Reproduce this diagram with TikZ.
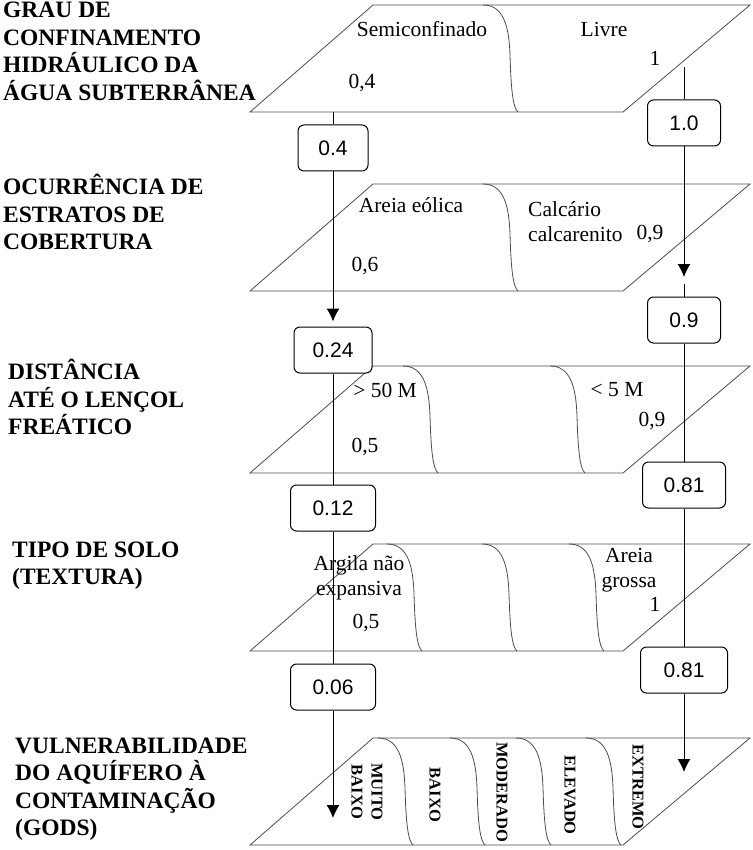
\documentclass[tikz,border=0pt]{standalone}
\usepackage{fontspec}
\setmainfont{Liberation Serif}
\setsansfont{Liberation Sans}
\usetikzlibrary{arrows.meta}

\tikzset{
  plane/.style={draw=black!70, line width=0.8pt},
  valbox/.style={draw, line width=1pt, rounded corners=6pt, fill=white, minimum height=46pt, font=\sffamily\fontsize{21}{24}\selectfont},
  flow/.style={line width=1pt},
  flowarrow/.style={flow, -{Latex[length=13pt,width=13pt]}},
  factor/.style={align=left, anchor=north west, inner sep=0pt, font=\bfseries\fontsize{23.5}{27.5}\selectfont},
  classlbl/.style={font=\fontsize{21.5}{25}\selectfont, align=center, inner sep=0pt},
  godslbl/.style={font=\bfseries\fontsize{16.5}{20}\selectfont, rotate=-90, align=center, inner sep=0pt}
}

% S-shaped border between two classes of a layer
\newcommand{\divider}[2]{%
  \draw[plane] (#1,#2) .. controls ({#1+20},#2) and ({#1+26},{#2+20}) .. ({#1+27},{#2+50})
    .. controls ({#1+28},{#2+85}) and ({#1+30},{#2+103}) .. ({#1+35},{#2+107});}

\begin{document}
\begin{tikzpicture}[x=1pt, y=-1pt]
		\useasboundingbox (0,0) rectangle (752,850);
		% layers
		\foreach \t in {5,184,366,544,738}
			\draw[plane] (250,{\t+107}) -- (373,\t) -- (750,\t) -- (623,{\t+107}) -- cycle;
		\divider{483}{5}
		\divider{483}{184}
		\divider{403}{366}
		\divider{550}{366}
		\divider{387}{544}
		\divider{482}{544}
		\divider{569}{544}
		\divider{378}{738}
		\divider{450}{738}
		\divider{516}{738}
		\divider{586}{738}
		% factor names
		\node[factor] (t1) at (3,2) {GRAU DE\\CONFINAMENTO\\HIDRÁULICO DA\\ÁGUA SUBTERRÂNEA};
		\node[factor] (t2) at (3,174) {OCURRÊNCIA DE\\ESTRATOS DE\\COBERTURA};
		\node[factor] (t3) at (8,359) {DISTÂNCIA\\ATÉ O LENÇOL\\FREÁTICO};
		\node[factor] (t4) at (12,541.5) {TIPO DE SOLO\\(TEXTURA)};
		\node[factor] (t5) at (15,737.5) {VULNERABILIDADE\\DO AQUÍFERO À\\CONTAMINAÇÃO\\(GODS)};
		% classes and ratings
		\node[classlbl] (semi) at (422,29) {Semiconfinado};
		\node[classlbl] (livre) at (604,29) {Livre};
		\node[classlbl] (g1) at (655,58) {1};
		\node[classlbl] (g04) at (362,83) {0,4};
		\node[classlbl] (eolica) at (411,205) {Areia eólica};
		\node[classlbl, align=left, anchor=west] (calc) at (528,222) {Calcário\\calcarenito};
		\node[classlbl] (o09) at (650,234) {0,9};
		\node[classlbl] (o06) at (365,266) {0,6};
		\node[classlbl] (d50) at (385,390) {> 50 M};
		\node[classlbl] (d5) at (617,390) {< 5 M};
		\node[classlbl] (d09) at (652,421) {0,9};
		\node[classlbl] (d05) at (365,447) {0,5};
		\node[classlbl] (argila) at (359,578) {Argila não\\expansiva};
		\node[classlbl] (s05) at (366,623) {0,5};
		\node[classlbl] (areia) at (629,570) {Areia\\grossa};
		\node[classlbl] (s1) at (655,604) {1};
		\node[godslbl] (mb) at (367,792) {MUITO\\BAIXO};
		\node[godslbl] (bx) at (435,795) {BAIXO};
		\node[godslbl] (md) at (502,792) {MODERADO};
		\node[godslbl] (el) at (570,795) {ELEVADO};
		\node[godslbl] (ex) at (638,787) {EXTREMO};
		% products along the two paths
		\node[valbox, minimum width=70pt] (b04) at (333,148) {0.4};
		\node[valbox, minimum width=78pt] (b024) at (333,350) {0.24};
		\node[valbox, minimum width=85pt] (b012) at (333,508) {0.12};
		\node[valbox, minimum width=85pt] (b006) at (333,687) {0.06};
		\node[valbox, minimum width=73pt] (b10) at (684,123) {1.0};
		\node[valbox, minimum width=73pt] (b09) at (684,320) {0.9};
		\node[valbox, minimum width=83pt] (b081a) at (684,485) {0.81};
		\node[valbox, minimum width=87pt] (b081b) at (684,670) {0.81};
		\coordinate (lstart) at (333,112);
		\coordinate (lend) at (333,818);
		\coordinate (rstart) at (684,67);
		\coordinate (rtip) at (684,277);
		\coordinate (rgap) at (684,284);
		\coordinate (rend) at (684,772);
		% left path
		\draw[flow] (lstart) -- (b04);
		\draw[flowarrow, shorten >=5pt] (b04) -- (b024);
		\draw[flow] (b024) -- (b012);
		\draw[flow] (b012) -- (b006);
		\draw[flowarrow] (b006) -- (lend);
		% right path
		\draw[flow] (rstart) -- (b10);
		\draw[flowarrow] (b10) -- (rtip);
		\draw[flow] (rgap) -- (b09);
		\draw[flow] (b09) -- (b081a);
		\draw[flow] (b081a) -- (b081b);
		\draw[flowarrow] (b081b) -- (rend);
\end{tikzpicture}
\end{document}
